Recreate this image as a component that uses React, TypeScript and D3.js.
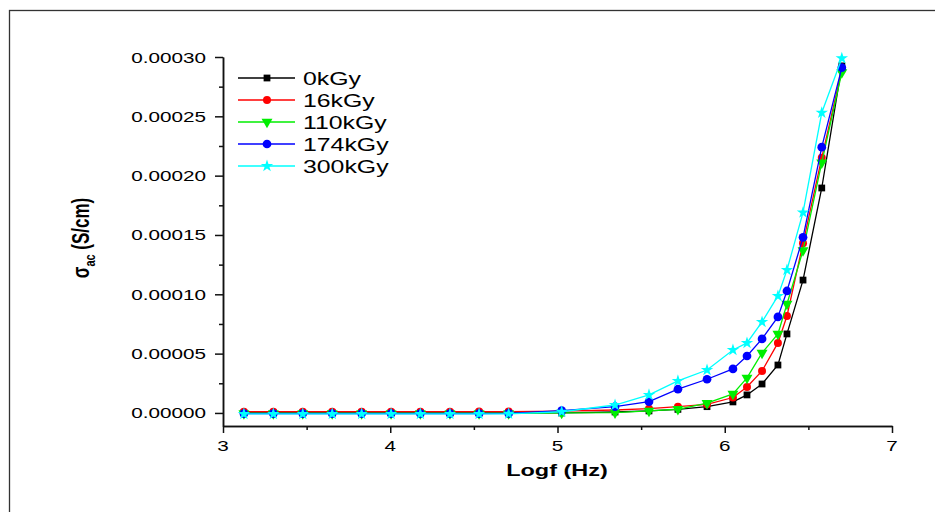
import React, { useEffect, useRef } from 'react';
import * as d3 from 'd3';

// log10 of frequency (Hz)
const logF = [3.125, 3.301, 3.477, 3.653, 3.829, 4.005, 4.180, 4.357, 4.531, 4.708,
  5.025, 5.344, 5.547, 5.720, 5.894, 6.049, 6.133, 6.223, 6.318, 6.372, 6.468, 6.580, 6.700];

// sigma_ac in units of 1e-5 S/cm
const s0kGy = [0, 0, 0, 0, 0, 0, 0, 0, 0, 0,
  0.0, 0.08, 0.17, 0.30, 0.53, 0.93, 1.52, 2.44, 4.04, 6.66, 11.2, 18.96, 29.25];
const s16kGy = [0.11, 0.11, 0.11, 0.11, 0.11, 0.11, 0.11, 0.11, 0.12, 0.12,
  0.15, 0.25, 0.36, 0.53, 0.73, 1.30, 2.19, 3.54, 5.90, 8.17, 14.3, 21.5, 28.9];
const s110kGy = [-0.03, -0.03, -0.03, -0.03, -0.03, -0.03, -0.03, -0.03, -0.03, -0.03,
  0.0, 0.03, 0.17, 0.31, 0.82, 1.60, 2.95, 5.06, 6.66, 9.18, 13.7, 21.1, 28.7];
const s174kGy = [-0.05, -0.05, -0.05, -0.05, -0.05, -0.05, -0.05, -0.05, -0.05, -0.04,
  0.19, 0.53, 0.95, 2.00, 2.84, 3.71, 4.80, 6.24, 8.09, 10.28, 14.8, 22.4, 29.1];
const s300kGy = [-0.08, -0.08, -0.08, -0.08, -0.08, -0.08, -0.08, -0.08, -0.08, -0.07,
  0.10, 0.67, 1.52, 2.70, 3.62, 5.31, 5.90, 7.67, 9.86, 12.05, 16.9, 25.3, 29.9];

const seriesNames = ['0kGy', '16kGy', '110kGy', '174kGy', '300kGy'];
const seriesValues = [s0kGy, s16kGy, s110kGy, s174kGy, s300kGy];
const seriesColors = ['#000000', '#ff0000', '#00ee00', '#0000ff', '#00ffff'];

const xTicks = [3, 4, 5, 6, 7];
const yTicks = [0, 0.00005, 0.0001, 0.00015, 0.0002, 0.00025, 0.0003];
const yTickLabels = ['0.00000', '0.00005', '0.00010', '0.00015', '0.00020', '0.00025', '0.00030'];

const FONT = '"Liberation Sans", Arial, sans-serif';
const SX = 1.38; // the original picture is stretched horizontally

const App = () => {
  const svgRef = useRef<SVGSVGElement>(null);

  useEffect(() => {
    const svg = d3.select(svgRef.current);
    svg.selectAll('*').remove();

    const x = d3.scaleLinear().domain([3, 7]).range([223, 892]);
    const y = d3.scaleLinear().domain([-0.000011, 0.0003]).range([426, 57]);

    // outer frame
    svg.append('rect')
      .attr('x', 9.5).attr('y', 10.5)
      .attr('width', 1000).attr('height', 600)
      .attr('fill', 'none').attr('stroke', '#333').attr('stroke-width', 1.3);

    // minor ticks
    svg.append('g')
      .attr('transform', 'translate(0,426)')
      .call(d3.axisBottom(x).tickValues([3.5, 4.5, 5.5, 6.5]).tickSize(4).tickFormat(() => '').tickSizeOuter(0));
    svg.append('g')
      .attr('transform', 'translate(223,0)')
      .call(d3.axisLeft(y).tickValues(d3.range(0.000025, 0.0003, 0.00005)).tickSize(4).tickFormat(() => '').tickSizeOuter(0));

    // major ticks and axis lines
    svg.append('g')
      .attr('transform', 'translate(0,426)')
      .call(d3.axisBottom(x).tickValues(xTicks).tickSize(7).tickFormat(() => '').tickSizeOuter(0));
    svg.append('g')
      .attr('transform', 'translate(223,0)')
      .call(d3.axisLeft(y).tickValues(yTicks).tickSize(8).tickFormat(() => '').tickSizeOuter(0));

    svg.selectAll('.domain, .tick line').attr('stroke', '#111').attr('stroke-width', 1.5);

    // tick labels
    xTicks.forEach(t => {
      svg.append('text')
        .attr('transform', `translate(${x(t)},450.5) scale(${SX},1)`)
        .attr('text-anchor', 'middle')
        .style('font-family', FONT).style('font-size', '15px')
        .text(t);
    });
    yTicks.forEach((t, i) => {
      svg.append('text')
        .attr('transform', `translate(206,${y(t) + 5.5}) scale(${SX},1)`)
        .attr('text-anchor', 'end')
        .style('font-family', FONT).style('font-size', '15px')
        .text(yTickLabels[i]);
    });

    // axis titles
    svg.append('text')
      .attr('transform', `translate(557,476) scale(${SX},1)`)
      .attr('text-anchor', 'middle')
      .style('font-family', FONT).style('font-size', '17px').style('font-weight', 'bold')
      .text('Logf (Hz)');

    const yTitle = svg.append('text')
      .attr('transform', `translate(89,238) scale(${SX},1) rotate(-90)`)
      .attr('text-anchor', 'middle')
      .style('font-family', FONT).style('font-size', '17px').style('font-weight', 'bold');
    yTitle.append('tspan').text('σ');
    yTitle.append('tspan').attr('dy', 4).style('font-size', '11px').text('ac');
    yTitle.append('tspan').attr('dy', -4).text(' (S/cm)');

    const symbols = [
      d3.symbol().type(d3.symbolSquare).size(46),
      d3.symbol().type(d3.symbolCircle).size(50),
      d3.symbol().type(d3.symbolTriangle).size(52),
      d3.symbol().type(d3.symbolCircle).size(60),
      d3.symbol().type(d3.symbolStar).size(48),
    ];
    const rotations = [0, 0, 180, 0, 0];

    const line = d3.line<number>()
      .x((_, i) => x(logF[i]))
      .y(d => y(d * 1e-5));

    seriesValues.forEach((vals, k) => {
      const g = svg.append('g');
      g.append('path')
        .datum(vals)
        .attr('fill', 'none')
        .attr('stroke', seriesColors[k])
        .attr('stroke-width', 1.3)
        .attr('d', line);
      g.selectAll('path.pt')
        .data(vals)
        .join('path')
        .attr('class', 'pt')
        .attr('transform', (d, i) => `translate(${x(logF[i])},${y(d * 1e-5)}) rotate(${rotations[k]})`)
        .attr('d', symbols[k]())
        .attr('fill', seriesColors[k]);
    });

    // legend
    seriesNames.forEach((name, k) => {
      const ly = 78 + k * 22;
      const g = svg.append('g');
      g.append('line')
        .attr('x1', 238).attr('x2', 295).attr('y1', ly).attr('y2', ly)
        .attr('stroke', seriesColors[k]).attr('stroke-width', 1.3);
      g.append('path')
        .attr('transform', `translate(267,${ly}) rotate(${rotations[k]})`)
        .attr('d', symbols[k]())
        .attr('fill', seriesColors[k]);
      g.append('text')
        .attr('transform', `translate(303,${ly + 6.5}) scale(${SX},1)`)
        .style('font-family', FONT).style('font-size', '18px')
        .text(name);
    });
  }, []);

  return (
    <svg
      ref={svgRef}
      width={935}
      height={512}
      style={{ position: 'absolute', left: 0, top: 0, background: '#fff' }}
    />
  );
};

export default App;
